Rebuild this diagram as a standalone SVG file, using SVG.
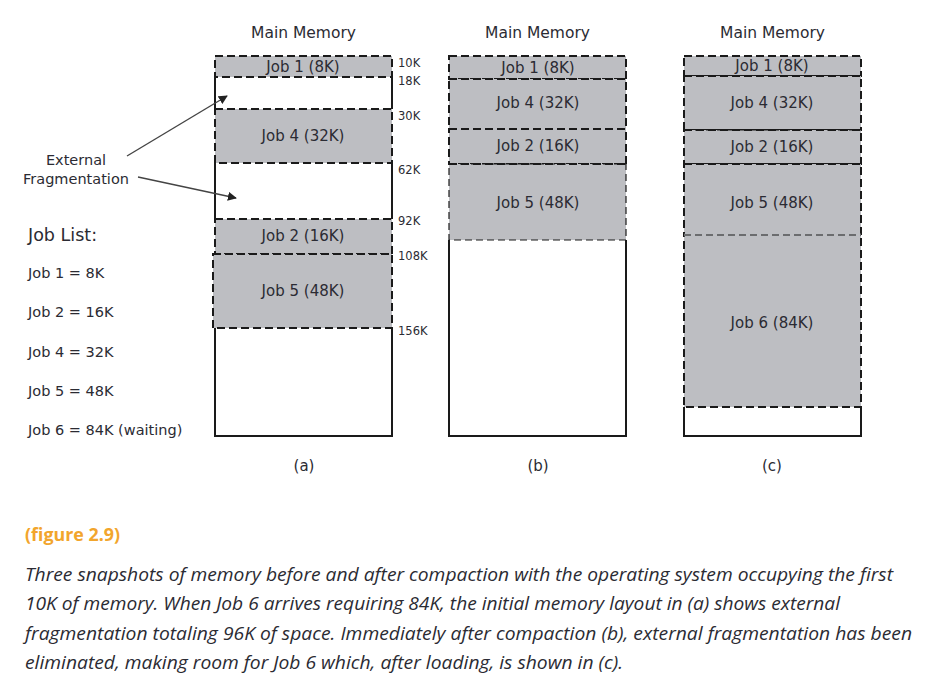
<svg xmlns="http://www.w3.org/2000/svg" width="930" height="687" viewBox="0 0 930 687">
<defs>
<style>
.t{font-family:"DejaVu Sans",Verdana,sans-serif;fill:#2b2b33}
.hd{font-size:15.5px;text-anchor:middle}
.jb{font-size:15px;text-anchor:middle}
.ad{font-size:11.5px}
.ls{font-size:14.5px}
.job{fill:#bdbec2;stroke:#1a1a1a;stroke-width:2;stroke-dasharray:8 4}
.thin{stroke-width:1.2;stroke-dasharray:7 4}
.fr{fill:none;stroke:#1a1a1a;stroke-width:2}
.cap{font-family:"Open Sans","Noto Sans",sans-serif;font-style:italic;font-size:19px;fill:#2b2b33}
.arr{stroke:#444;stroke-width:1.4;fill:none}
</style>
<marker id="ah" viewBox="0 0 10 10" refX="9" refY="5" markerWidth="9" markerHeight="9" markerUnits="userSpaceOnUse" orient="auto"><path d="M0,0 L10,5 L0,10 z" fill="#222"/></marker>
</defs>
<rect width="930" height="687" fill="#fff"/>

<g id="col-a">
<text class="t hd" x="303.5" y="38">Main Memory</text>
<path class="fr" d="M215,77 V109 M392,77 V109 M215,163 V219 M392,163 V219 M215,328 V436 H392 V328"/>
<g id="a-job1"><rect class="job" x="215" y="56" width="177" height="21"/><text class="t jb" x="303" y="72">Job 1 (8K)</text></g>
<g id="a-job4"><rect class="job" x="215" y="109" width="177" height="54"/><text class="t jb" x="303" y="141">Job 4 (32K)</text></g>
<g id="a-job2"><rect class="job" x="215" y="219" width="177" height="35"/><text class="t jb" x="303" y="241">Job 2 (16K)</text></g>
<g id="a-job5"><rect class="job" x="213" y="254" width="179" height="74"/><text class="t jb" x="303" y="296">Job 5 (48K)</text></g>
<g id="a-addr">
<text class="t ad" x="398" y="67">10K</text>
<text class="t ad" x="398" y="85">18K</text>
<text class="t ad" x="398" y="120">30K</text>
<text class="t ad" x="398" y="174">62K</text>
<text class="t ad" x="398" y="225">92K</text>
<text class="t ad" x="398" y="260">108K</text>
<text class="t ad" x="398" y="335">156K</text>
</g>
<text class="t jb" x="304" y="471">(a)</text>
</g>

<g id="col-b">
<text class="t hd" x="537.5" y="38">Main Memory</text>
<path class="fr" d="M449,240 V436 H626 V240"/>
<g id="b-job1"><rect class="job" x="449" y="56" width="177" height="23"/><text class="t jb" x="538" y="73">Job 1 (8K)</text></g>
<g id="b-job4"><rect class="job" x="449" y="79" width="177" height="50"/><text class="t jb" x="538" y="108">Job 4 (32K)</text></g>
<g id="b-job2"><rect class="job" x="449" y="129" width="177" height="35"/><text class="t jb" x="538" y="151">Job 2 (16K)</text></g>
<g id="b-job5"><rect class="job thin" x="449" y="164" width="177" height="76"/><line x1="449" y1="164" x2="626" y2="164" stroke="#1a1a1a" stroke-width="2" stroke-dasharray="8 4"/><text class="t jb" x="538" y="208">Job 5 (48K)</text></g>
<text class="t jb" x="538" y="471">(b)</text>
</g>

<g id="col-c">
<text class="t hd" x="772.5" y="38">Main Memory</text>
<path class="fr" d="M684,407 V436 H861 V407"/>
<g id="c-job1"><rect class="job" x="684" y="56" width="177" height="20"/><text class="t jb" x="772" y="71">Job 1 (8K)</text></g>
<g id="c-job4"><rect class="job" x="684" y="76" width="177" height="54"/><text class="t jb" x="772" y="108">Job 4 (32K)</text></g>
<g id="c-job2"><rect class="job" x="684" y="130" width="177" height="34"/><line x1="684" y1="130" x2="861" y2="130" stroke="#1a1a1a" stroke-width="1.2" stroke-dasharray="7 4"/><text class="t jb" x="772" y="152">Job 2 (16K)</text></g>
<g id="c-job5"><rect class="job" x="684" y="164" width="177" height="71"/><text class="t jb" x="772" y="208">Job 5 (48K)</text></g>
<g id="c-job6"><rect class="job" x="684" y="235" width="177" height="172"/><line x1="684" y1="235" x2="861" y2="235" stroke="#bdbec2" stroke-width="2.4"/><line x1="684" y1="235" x2="861" y2="235" stroke="#1a1a1a" stroke-width="1.2" stroke-dasharray="7 4"/><text class="t jb" x="772" y="328">Job 6 (84K)</text></g>
<text class="t jb" x="772" y="471">(c)</text>
</g>

<g id="frag-label">
<text class="t ls" x="76" y="165" text-anchor="middle">External</text>
<text class="t ls" x="76" y="184" text-anchor="middle">Fragmentation</text>
</g>

<g id="connectors">
<line class="arr" x1="127" y1="156" x2="227" y2="96" marker-end="url(#ah)"/>
<line class="arr" x1="138" y1="177" x2="236" y2="198" marker-end="url(#ah)"/>
</g>

<g id="job-list">
<text class="t" x="28" y="241" font-size="17.5">Job List:</text>
<text class="t ls" x="28" y="278">Job 1 = 8K</text>
<text class="t ls" x="28" y="317">Job 2 = 16K</text>
<text class="t ls" x="28" y="357">Job 4 = 32K</text>
<text class="t ls" x="28" y="396">Job 5 = 48K</text>
<text class="t ls" x="28" y="435">Job 6 = 84K (waiting)</text>
</g>

<g id="caption">
<text x="25" y="541" font-family="'Open Sans','Noto Sans',sans-serif" font-weight="bold" font-size="18" fill="#f2a52c" textLength="95" lengthAdjust="spacingAndGlyphs">(figure 2.9)</text>
<text class="cap" x="25" y="581" textLength="868" lengthAdjust="spacingAndGlyphs">Three snapshots of memory before and after compaction with the operating system occupying the first</text>
<text class="cap" x="25" y="610" textLength="815" lengthAdjust="spacingAndGlyphs">10K of memory. When Job 6 arrives requiring 84K, the initial memory layout in (a) shows external</text>
<text class="cap" x="25" y="640" textLength="887" lengthAdjust="spacingAndGlyphs">fragmentation totaling 96K of space. Immediately after compaction (b), external fragmentation has been</text>
<text class="cap" x="25" y="669" textLength="598" lengthAdjust="spacingAndGlyphs">eliminated, making room for Job 6 which, after loading, is shown in (c).</text>
</g>
</svg>
